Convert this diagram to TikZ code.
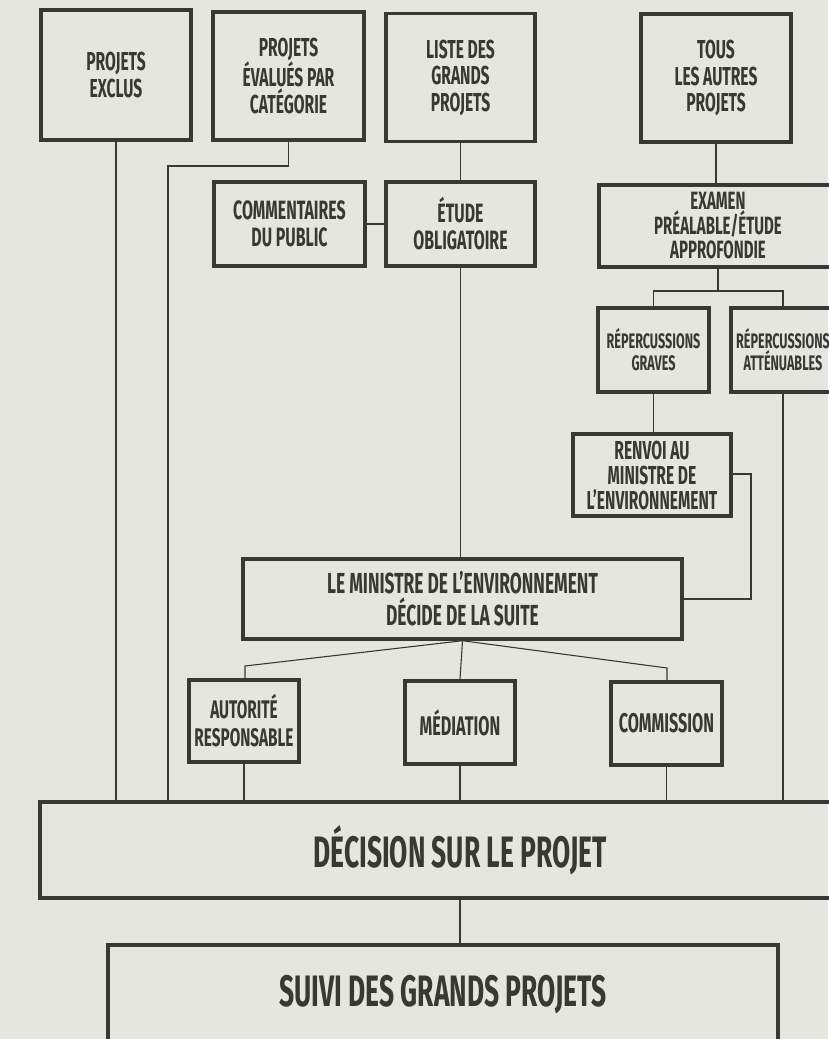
\documentclass[tikz,border=0pt]{standalone}
\usepackage{fontspec}
\setmainfont{Fira Sans}[FakeStretch=0.6]
\usepackage{xcolor}
\usepackage{tikz}
\usetikzlibrary{positioning, calc}

\definecolor{ink}{RGB}{56,56,53}
\definecolor{paper}{RGB}{230,230,224}

\begin{document}
\begin{tikzpicture}[x=1pt, y=-1pt,
  box/.style={
    rectangle, draw=ink, line width=3.4pt,
    text=ink, align=center, inner sep=0pt,
    font=\fontsize{26}{26.5}\selectfont\bfseries},
  midbox/.style={box,
    font=\fontsize{26.5}{27}\selectfont\bfseries},
  smallbox/.style={box,
    font=\fontsize{21}{22}\selectfont\bfseries},
  lowbox/.style={box,
    font=\fontsize{27}{28}\selectfont\bfseries},
  bigbox/.style={box,
    font=\fontsize{44}{48}\selectfont\bfseries},
  link/.style={draw=ink, line width=1.1pt},
]

%% ---- paper and frame ----
\fill[paper] (0,0) rectangle (828,1039);
\useasboundingbox (0,0) rectangle (828,1039);

%% ---- Top row ----
\node[box, minimum width=150pt, minimum height=130pt] (exclus) at (116,75)
  {PROJETS\\EXCLUS};
\node[box, minimum width=151pt, minimum height=128pt] (categ) at (288.5,76)
  {PROJETS\\ÉVALUÉS PAR\\CATÉGORIE};
\node[box, minimum width=149pt, minimum height=128pt] (liste) at (460.5,77.5)
  {LISTE DES\\GRANDS\\PROJETS};
\node[box, minimum width=150pt, minimum height=128pt] (autres) at (716,78)
  {TOUS\\LES AUTRES\\PROJETS};

%% ---- Second row ----
\node[midbox, minimum width=151pt, minimum height=84pt] (public) at (289.5,224)
  {COMMENTAIRES\\DU PUBLIC};
\node[midbox, minimum width=149pt, minimum height=84pt] (etude) at (460.5,224)
  {ÉTUDE\\OBLIGATOIRE};
\node[box, minimum width=238pt, minimum height=82pt,
  font=\fontsize{25}{24.5}\selectfont\bfseries] (examen) at (718,226)
  {EXAMEN\\PRÉALABLE/ÉTUDE\\APPROFONDIE};

%% ---- Screening branch ----
\node[smallbox, minimum width=111pt, minimum height=84pt] (graves) at (653.5,350)
  {RÉPERCUSSIONS\\GRAVES};
\node[smallbox, minimum width=104pt, minimum height=84pt] (attenu) at (783,350)
  {RÉPERCUSSIONS\\ATTÉNUABLES};
\node[box, minimum width=158pt, minimum height=82pt,
  font=\fontsize{26}{25}\selectfont\bfseries] (renvoi) at (652,475)
  {RENVOI AU\\MINISTRE DE\\L’ENVIRONNEMENT};

%% ---- Minister and options ----
\node[box, minimum width=439pt, minimum height=80pt,
  font=\fontsize{29}{32}\selectfont\bfseries] (ministre) at (462.5,599)
  {LE MINISTRE DE L’ENVIRONNEMENT\\DÉCIDE DE LA SUITE};
\node[lowbox, minimum width=110pt, minimum height=82pt,
  font=\fontsize{25.5}{28}\selectfont\bfseries] (autorite) at (244,721)
  {AUTORITÉ\\RESPONSABLE};
\node[lowbox, minimum width=110pt, minimum height=83pt] (mediation) at (460,722.5)
  {MÉDIATION};
\node[lowbox, minimum width=111pt, minimum height=83pt] (commission) at (666.5,723.5)
  {COMMISSION};

%% ---- Bottom ----
\node[bigbox, minimum width=840pt, minimum height=96pt] (decision) at (460,850)
  {DÉCISION SUR LE PROJET};
\node[bigbox, minimum width=670pt, minimum height=100pt] (suivi) at (443,995)
  {\raisebox{8pt}{SUIVI DES GRANDS PROJETS}};

%% ---- Bend points ----
\coordinate (categbend) at (168,166);
\coordinate (split) at (718,291);
\coordinate (retour) at (751,474);
\coordinate (ltap) at (245,666);
\coordinate (rtap) at (667,668);

%% ---- Connectors ----
\draw[link] (exclus.south) -- (exclus.south |- decision.north);
\draw[link] (categ.south) |- (categbend) -- (categbend |- decision.north);
\draw[link] (liste.south) -- (liste.south |- etude.north);
\draw[link] (public.east) -- (etude.west);
\draw[link] (etude.south) -- (etude.south |- ministre.north);
\draw[link] (autres.south) -- (autres.south |- examen.north);
\draw[link] (examen.south) -- (split);
\draw[link] (graves.north) |- (split) -| (attenu.north);
\draw[link] (graves.south) -- (graves.south |- renvoi.north);
\draw[link] (renvoi.east |- retour) -| (retour |- ministre.east) -- (ministre.east);
\draw[link] (attenu.south) -- (attenu.south |- decision.north);

\draw[link] (ministre.south) -- (mediation.north);
\draw[link] (ministre.south) -- (ltap) -- (ltap |- autorite.north);
\draw[link] (ministre.south) -- (rtap) -- (rtap |- commission.north);
\draw[link] (autorite.south) -- (autorite.south |- decision.north);
\draw[link] (mediation.south) -- (mediation.south |- decision.north);
\draw[link] (commission.south) -- (commission.south |- decision.north);

\draw[link] (decision.south) -- (decision.south |- suivi.north);

\end{tikzpicture}
\end{document}
